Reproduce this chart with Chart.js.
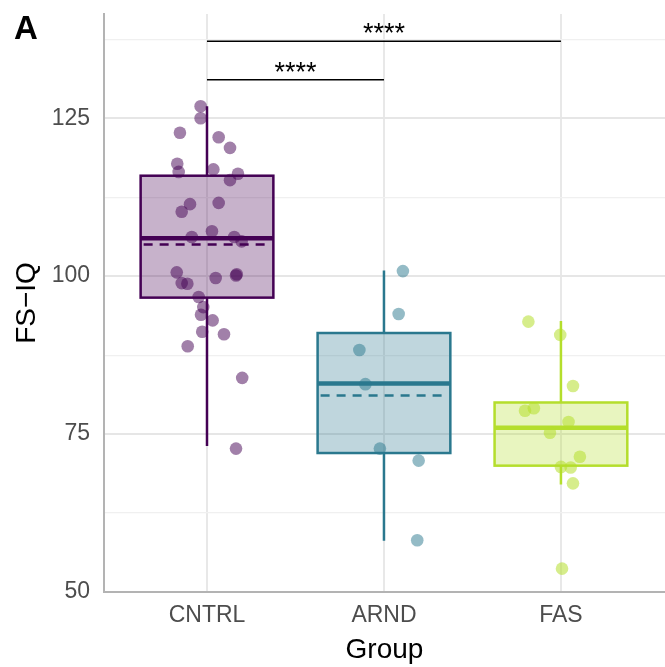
<!DOCTYPE html>
<html>
<head>
<meta charset="utf-8">
<script src="https://cdn.jsdelivr.net/npm/chart.js@4.4.1/dist/chart.umd.min.js"></script>
<style>
  html, body { margin: 0; padding: 0; background: #fff; }
  #wrap { width: 665px; height: 667px; position: relative; }
</style>
</head>
<body>
<div id="wrap"><canvas id="iqChart"></canvas></div>
<script>
// Groups and colours
const groups = ['CNTRL', 'ARND', 'FAS'];
const lineColors = ['#440154', '#2A788E', '#B4DE2C'];
const fillColors = ['rgba(68,1,84,0.3)', 'rgba(42,120,142,0.3)', 'rgba(180,222,44,0.3)'];
const pointColors = ['rgba(68,1,84,0.5)', 'rgba(42,120,142,0.5)', 'rgba(180,222,44,0.55)'];

// Box summaries per group
const q1 = [96.6, 72.0, 70.0];
const medians = [106.0, 83.0, 76.0];
const q3 = [115.9, 91.0, 80.0];
const whiskerLow = [73.1, 58.1, 67.0];
const whiskerHigh = [126.9, 100.9, 92.9];
const means = [105.0, 81.1, 75.85];

// Individual FS-IQ scores with horizontal jitter
const cntrlScores = [126.9, 125.0, 122.7, 122.0, 120.3, 117.8, 116.5, 116.9, 116.2, 115.2,
  111.4, 110.2, 111.6, 106.2, 107.1, 106.2, 105.5, 100.6, 98.9, 98.8, 99.7, 100.3, 100.1,
  96.7, 95.1, 93.9, 93.0, 91.2, 90.8, 88.9, 83.9, 72.7];
const cntrlJitter = [-0.036, -0.036, -0.153, 0.066, 0.130, -0.168, -0.160, 0.036, 0.175, 0.130,
  -0.096, -0.143, 0.066, -0.086, 0.028, 0.154, 0.196, -0.171, -0.143, -0.111, 0.049, 0.168, 0.164,
  -0.047, -0.021, -0.034, 0.032, -0.027, 0.096, -0.109, 0.199, 0.164];
const arndScores = [100.8, 94.0, 88.3, 82.9, 72.7, 70.8, 58.2];
const arndJitter = [0.107, 0.083, -0.139, -0.105, -0.023, 0.196, 0.188];
const fasScores = [92.8, 90.7, 82.6, 78.7, 79.1, 76.9, 75.2, 69.8, 69.7, 71.4, 67.2, 53.7];
const fasJitter = [-0.184, -0.004, 0.068, -0.203, -0.153, 0.043, -0.062, 0.0, 0.055, 0.107, 0.068, 0.006];

// Axis ticks
const yTicks = [50, 62.5, 75, 87.5, 100, 112.5, 125, 137.5];
const yMajor = [50, 75, 100, 125];

// Significance brackets (group index from / to)
const bracketFrom = [0, 0];
const bracketTo = [1, 2];
const bracketY = [131.1, 137.2];
const bracketLabels = ['****', '****'];

const FONT = "'Liberation Sans', Arial, sans-serif";
const BOX_HALF = 0.375;

const scoreSets = [cntrlScores, arndScores, fasScores];
const jitterSets = [cntrlJitter, arndJitter, fasJitter];

// Boxes, whiskers, dashed means and medians under the points
const boxPlugin = {
    id: 'boxes',
    beforeDatasetsDraw(chart) {
        const { ctx, scales: { x, y } } = chart;
        ctx.save();
        groups.forEach((g, i) => {
            const cx = x.getPixelForValue(i + 1);
            const l = x.getPixelForValue(i + 1 - BOX_HALF);
            const r = x.getPixelForValue(i + 1 + BOX_HALF);
            const top = y.getPixelForValue(q3[i]);
            const bot = y.getPixelForValue(q1[i]);
            ctx.strokeStyle = lineColors[i];
            ctx.lineWidth = 2.5;
            ctx.setLineDash([]);
            // whiskers
            ctx.beginPath();
            ctx.moveTo(cx, y.getPixelForValue(whiskerHigh[i]));
            ctx.lineTo(cx, top);
            ctx.moveTo(cx, bot);
            ctx.lineTo(cx, y.getPixelForValue(whiskerLow[i]));
            ctx.stroke();
            // box
            ctx.fillStyle = fillColors[i];
            ctx.fillRect(l, top, r - l, bot - top);
            ctx.strokeRect(l, top, r - l, bot - top);
            // mean
            const mn = y.getPixelForValue(means[i]);
            ctx.setLineDash([9, 7]);
            ctx.beginPath();
            ctx.moveTo(l + 3, mn);
            ctx.lineTo(r - 3, mn);
            ctx.stroke();
            // median
            const my = y.getPixelForValue(medians[i]);
            ctx.setLineDash([]);
            ctx.lineWidth = 4.5;
            ctx.beginPath();
            ctx.moveTo(l, my);
            ctx.lineTo(r, my);
            ctx.stroke();
        });
        ctx.restore();
    }
};

// Comparison brackets, stars and the panel letter
const annotatePlugin = {
    id: 'annotate',
    afterDatasetsDraw(chart) {
        const { ctx, scales: { x, y } } = chart;
        ctx.save();
        ctx.strokeStyle = '#000';
        ctx.fillStyle = '#000';
        ctx.lineWidth = 1.5;
        ctx.font = '27px ' + FONT;
        ctx.textAlign = 'center';
        ctx.textBaseline = 'alphabetic';
        bracketY.forEach((v, k) => {
            const x0 = x.getPixelForValue(bracketFrom[k] + 1);
            const x1 = x.getPixelForValue(bracketTo[k] + 1);
            const py = y.getPixelForValue(v);
            ctx.beginPath();
            ctx.moveTo(x0, py);
            ctx.lineTo(x1, py);
            ctx.stroke();
            ctx.fillText(bracketLabels[k], (x0 + x1) / 2, py + 1);
        });
        ctx.font = 'bold 33px ' + FONT;
        ctx.textAlign = 'left';
        ctx.fillText('A', 14, 39);
        ctx.restore();
    }
};

new Chart(document.getElementById('iqChart').getContext('2d'), {
    type: 'scatter',
    data: {
        datasets: groups.map((g, i) => ({
            label: g,
            data: scoreSets[i].map((v, k) => ({ x: i + 1 + jitterSets[i][k], y: v })),
            backgroundColor: pointColors[i],
            borderWidth: 0,
            pointRadius: 6.3,
            pointHoverRadius: 6.3
        }))
    },
    options: {
        responsive: true,
        maintainAspectRatio: false,
        animation: false,
        layout: { autoPadding: false, padding: { top: 14, right: 0, left: 0, bottom: 0 } },
        plugins: { legend: { display: false }, tooltip: { enabled: false } },
        scales: {
            x: {
                type: 'linear',
                min: 0.418,
                max: 3.588,
                afterBuildTicks: axis => { axis.ticks = [1, 2, 3].map(v => ({ value: v })); },
                afterFit: s => {
                    s.height = 75;
                    s.paddingLeft = 0;
                    s.paddingRight = 0;
                },
                grid: { color: '#e8e8e8', lineWidth: 2, drawTicks: false },
                border: { display: true, color: '#b3b3b3', width: 2 },
                ticks: {
                    padding: 10,
                    color: '#4d4d4d',
                    font: { family: FONT, size: 23 },
                    callback: v => groups[v - 1]
                },
                title: {
                    display: true,
                    text: 'Group',
                    color: '#000',
                    font: { family: FONT, size: 28 },
                    padding: { top: 0, bottom: 0 }
                }
            },
            y: {
                min: 50,
                max: 141.5,
                afterBuildTicks: axis => { axis.ticks = yTicks.map(v => ({ value: v })); },
                afterFit: s => {
                    s.width = 104;
                    s.paddingTop = 0;
                    s.paddingBottom = 0;
                },
                grid: {
                    color: c => yMajor.includes(c.tick.value) ? '#e6e6e6' : '#f0f0f0',
                    lineWidth: c => yMajor.includes(c.tick.value) ? 2 : 1.2,
                    drawTicks: false
                },
                border: { display: true, color: '#b3b3b3', width: 2 },
                ticks: {
                    padding: 14,
                    color: '#4d4d4d',
                    font: { family: FONT, size: 23 },
                    callback: v => yMajor.includes(v) ? String(v) : ''
                },
                title: {
                    display: true,
                    text: 'FS\u2212IQ',
                    color: '#000',
                    font: { family: FONT, size: 28 },
                    padding: { top: 10, bottom: 0 }
                }
            }
        }
    },
    plugins: [boxPlugin, annotatePlugin]
});
</script>
</body>
</html>
